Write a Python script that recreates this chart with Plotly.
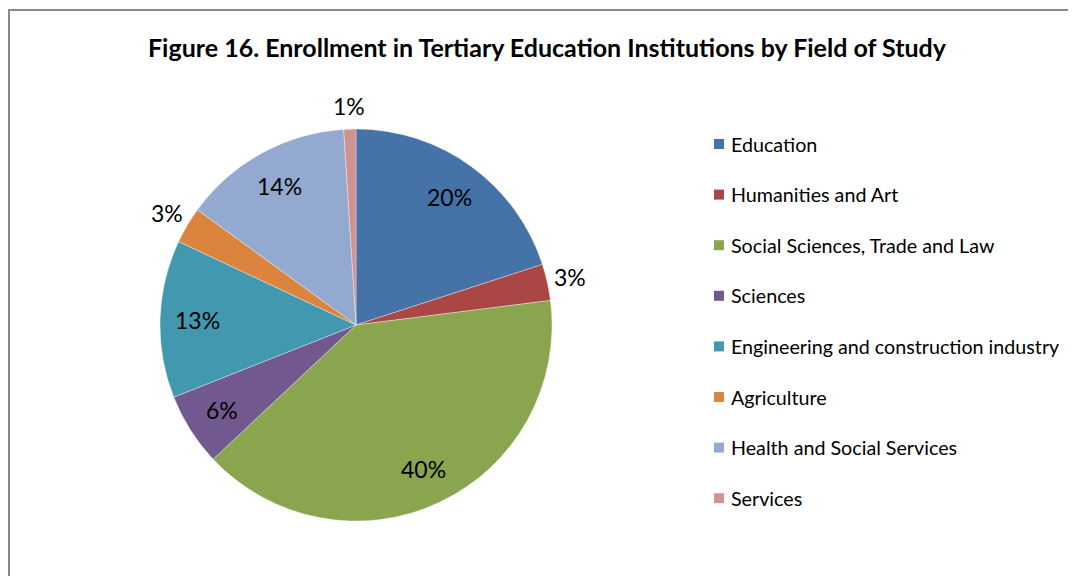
import math
import plotly.graph_objects as go

categories = ["Education", "Humanities and Art", "Social Sciences, Trade and Law", "Sciences",
              "Engineering and construction industry", "Agriculture",
              "Health and Social Services", "Services"]
values = [20, 3, 40, 6, 13, 3, 14, 1]
colors = ["#4572A7", "#AA4643", "#89A54E", "#71588F", "#4198AF", "#DB843D", "#93A9CF", "#D19392"]
label_outside = [False, True, False, False, False, True, False, True]
title = "Figure 16. Enrollment in Tertiary Education Institutions by Field of Study"

# page has an 8px body margin; work in page pixels and convert
OFF = 8
W, H = 1076 - OFF, 576 - OFF


def px(x):
    return (x - OFF) / W


def py(y):
    return 1 - (y - OFF) / H


cx, cy, R = 356, 325, 196

fig = go.Figure(go.Pie(
    labels=categories, values=values, sort=False, direction="clockwise", rotation=0,
    marker=dict(colors=colors, line=dict(color="rgba(255,255,255,0.6)", width=0.6)),
    textinfo="none", showlegend=False, hoverinfo="label+percent",
    domain=dict(x=[px(cx - R), px(cx + R)], y=[py(cy + R), py(cy - R)]),
))

# percentage data labels, positioned on each slice's bisector
total = sum(values)
cum = 0
for v, out in zip(values, label_outside):
    theta = math.radians((cum + v / 2) / total * 360)
    cum += v
    r = R * (1.12 if out else 0.81)
    x = cx + r * math.sin(theta)
    y = cy - r * math.cos(theta)
    fig.add_annotation(x=px(x), y=py(y), xref="paper", yref="paper",
                       text=f"{round(v / total * 100)}%", showarrow=False,
                       xanchor="center", yanchor="middle",
                       font=dict(family="Lato", size=23, color="black"))

# legend
leg_x, leg_y0, leg_dy, sq = 714, 144, 50.6, 10
for i, (lab, col) in enumerate(zip(categories, colors)):
    y = leg_y0 + i * leg_dy
    fig.add_shape(type="rect", xref="paper", yref="paper",
                  x0=px(leg_x), x1=px(leg_x + sq),
                  y0=py(y + sq / 2), y1=py(y - sq / 2),
                  fillcolor=col, line=dict(width=0))
    fig.add_annotation(x=px(leg_x + 15), y=py(y), xref="paper", yref="paper",
                       text=lab, showarrow=False, xanchor="left", yanchor="middle",
                       font=dict(family="Lato", size=19.7, color="black"))

# chart border
fig.add_shape(type="rect", xref="paper", yref="paper",
              x0=px(9), x1=1.2, y0=-0.2, y1=py(10),
              line=dict(color="#888888", width=2), fillcolor="rgba(0,0,0,0)")

fig.update_layout(
    width=W, height=H, margin=dict(l=0, r=0, t=0, b=0),
    paper_bgcolor="white", plot_bgcolor="white",
    title=dict(text="<b>" + title + "</b>", x=px(547), xanchor="center",
               y=py(48), yanchor="middle",
               font=dict(family="Lato", size=25, color="black")),
)

fig.write_html("out.html")
